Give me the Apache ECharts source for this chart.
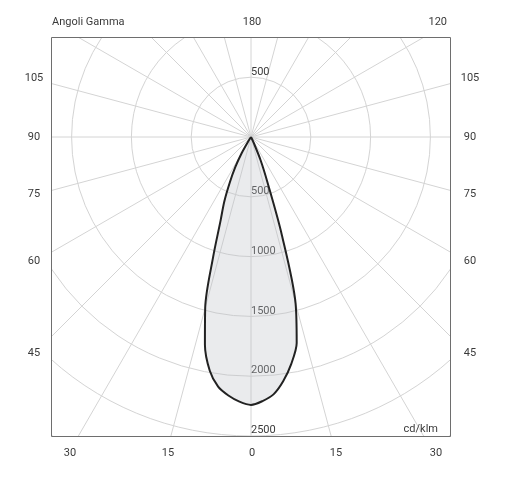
<!DOCTYPE html>
<html>
<head>
<meta charset="utf-8">
<script src="https://cdn.jsdelivr.net/npm/echarts@6/dist/echarts.min.js"></script>
<style>
  html, body { margin: 0; padding: 0; background: #fff; }
  #chart { width: 511px; height: 479px; }
</style>
</head>
<body>
<div id="chart"></div>
<script>
// gamma angles (deg) and intensity (cd/klm), one half-plane each
const gammaLeft = [35, 32.5, 30, 27.5, 25, 22.5, 20, 17.5, 15, 12.5, 10, 7.5, 5, 2.5, 0]
const cdLeft = [0, 40, 157, 285, 418, 582, 744, 1055, 1480, 1780, 1985, 2106, 2170, 2215, 2240]
const gammaRight = [2.5, 5, 7.5, 10, 12.5, 15, 17.5, 20, 22.5, 25, 27.5]
const cdRight = [2210, 2160, 2060, 1930, 1765, 1440, 854, 400, 208, 50, 0]

const radiusTicks = [500, 1000, 1500, 2000, 2500]
const sideLabels = ['105', '90', '75', '60', '45']
const bottomLabels = ['30', '15', '0', '15', '30']
const topLabels = ['Angoli Gamma', '180', '120']
const unitLabel = 'cd/klm'

const cx = 251
const cy = 137
const pxPerUnit = 59.8 / 500
const rMax = 3500

const curve = []
gammaLeft.forEach((g, i) => curve.push([cdLeft[i], g]))
gammaRight.forEach((g, i) => curve.push([cdRight[i], 360 - g]))

const box = { x: 51.5, y: 37.5, w: 399, h: 399 }
const font = 'Roboto, "Noto Sans", sans-serif'
const txtColor = '#3a3a3a'

const txt = (text, x, y, align) => ({
  type: 'text',
  z: 110,
  x: x,
  y: y,
  style: {
    text: text,
    fill: txtColor,
    font: '11px ' + font,
    align: align || 'center',
    verticalAlign: 'middle'
  }
})

const sideY = [78.5, 137, 194, 261, 353]
const bottomX = [70, 168, 252, 336, 436]

const graphics = [
  // masks outside the frame
  { type: 'rect', z: 100, shape: { x: 0, y: 0, width: 511, height: box.y }, style: { fill: '#fff' } },
  { type: 'rect', z: 100, shape: { x: 0, y: box.y + box.h, width: 511, height: 60 }, style: { fill: '#fff' } },
  { type: 'rect', z: 100, shape: { x: 0, y: 0, width: box.x, height: 479 }, style: { fill: '#fff' } },
  { type: 'rect', z: 100, shape: { x: box.x + box.w, y: 0, width: 80, height: 479 }, style: { fill: '#fff' } },
  // frame
  { type: 'rect', z: 105, shape: { x: box.x, y: box.y, width: box.w, height: box.h }, style: { fill: 'none', stroke: '#6e6e6e', lineWidth: 1 } },
  txt(topLabels[0], 52, 22, 'left'),
  txt(topLabels[1], 252, 22),
  txt(topLabels[2], 447, 22, 'right'),
  txt(unitLabel, 438, 429, 'right'),
  txt(String(radiusTicks[0]), 251, 72, 'left')
]
sideLabels.forEach((s, i) => {
  graphics.push(txt(s, 34, sideY[i]))
  graphics.push(txt(s, 470, sideY[i]))
})
bottomLabels.forEach((s, i) => graphics.push(txt(s, bottomX[i], 453)))

const chart = echarts.init(document.getElementById('chart'))
chart.setOption({
  backgroundColor: '#fff',
  animation: false,
  polar: {
    center: [cx, cy],
    radius: rMax * pxPerUnit
  },
  angleAxis: {
    type: 'value',
    min: 0,
    max: 360,
    interval: 15,
    startAngle: 270,
    clockwise: true,
    axisLine: { show: false },
    axisTick: { show: false },
    axisLabel: { show: false },
    splitLine: { show: true, lineStyle: { color: '#d4d4d4', width: 1 } }
  },
  radiusAxis: {
    type: 'value',
    min: 0,
    max: rMax,
    interval: 500,
    axisLine: { show: false },
    axisTick: { show: false },
    splitLine: { show: true, lineStyle: { color: '#d4d4d4', width: 1 } },
    axisLabel: {
      show: true,
      color: txtColor,
      fontSize: 11,
      fontFamily: font,
      margin: 0,
      verticalAlign: 'bottom',
      formatter: v => (radiusTicks.indexOf(v) >= 0 ? String(v) : '')
    }
  },
  series: [
    {
      type: 'line',
      coordinateSystem: 'polar',
      data: curve,
      symbol: 'none',
      smooth: 0.3,
      lineStyle: { color: '#222', width: 2 },
      areaStyle: { color: 'rgba(190,192,198,0.45)', origin: 'start' },
      z: 2
    }
  ],
  graphic: graphics
})
</script>
</body>
</html>
